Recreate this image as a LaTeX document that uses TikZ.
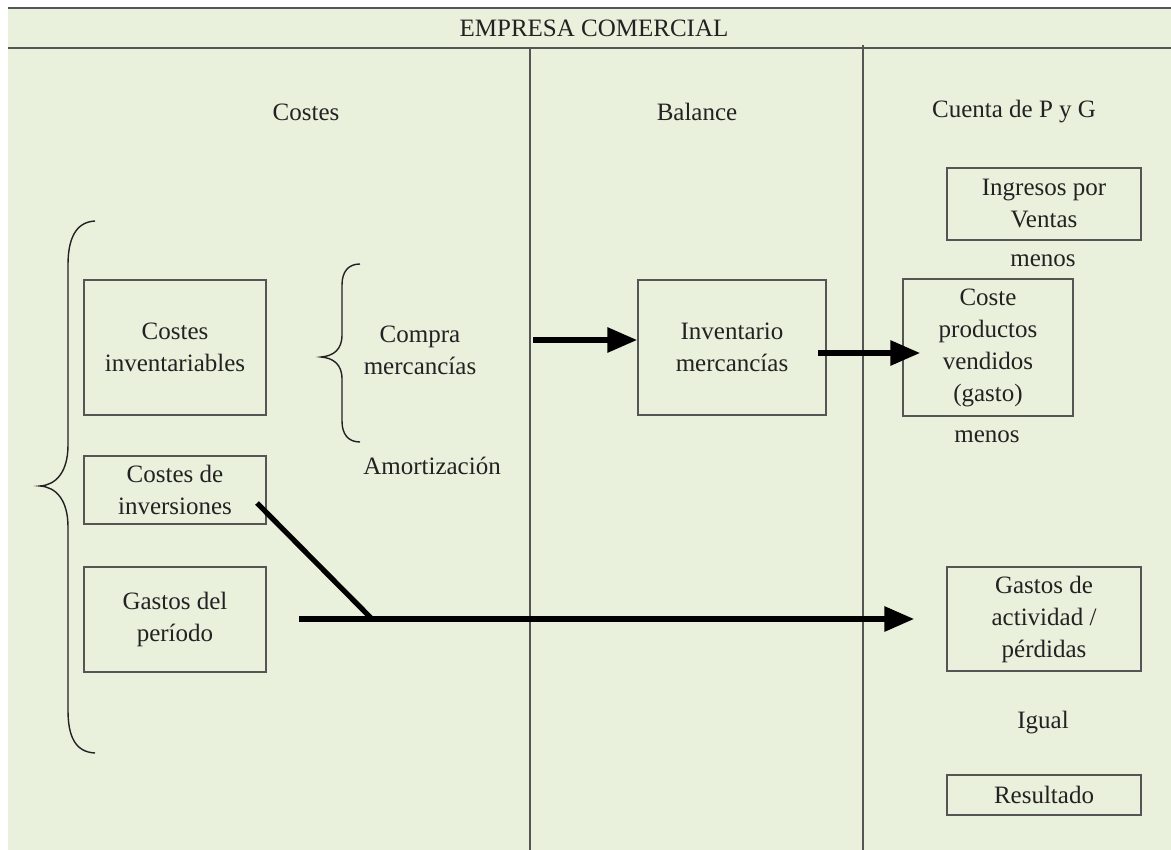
\documentclass[tikz,border=0pt]{standalone}
\usepackage{fontspec}
\setmainfont{Liberation Serif}
\usepackage{tikz}
\usetikzlibrary{arrows.meta}

\definecolor{fondo}{RGB}{233,240,220}
\definecolor{raya}{RGB}{85,85,85}
\definecolor{texto}{RGB}{34,34,34}

\begin{document}
\begin{tikzpicture}[x=0.5pt, y=-0.5pt,
    every node/.style={font=\fontsize{12.5}{16}\selectfont, text=texto, align=center},
    caja/.style={draw=raya, line width=0.7pt, inner sep=0pt, minimum width=#1},
    caja/.default=91pt,
    flecha/.style={line width=3pt, -{Triangle[length=15pt, width=12pt]}},
    raya fina/.style={draw=raya, line width=0.7pt}]
  \useasboundingbox (0,0) rectangle (1171,850);
  \fill[fondo] (8,8) rectangle (1171,850);
  % table frame
  \draw[raya fina] (8,8) -- (1171,8);
  \draw[raya fina] (8,48) -- (1171,48);
  \draw[raya fina] (530,47) -- (530,850);
  \draw[raya fina] (863,45) -- (863,850);
  \node (titulo) at (594,28) {EMPRESA COMERCIAL};
  \node (hcostes) at (306,112) {Costes};
  \node (hbalance) at (697,112) {Balance};
  \node (hpyg) at (1014,112) {Cuenta de P y G};
  % costes column
  \node[caja, minimum height=67.5pt] (inventariables) at (175,347.5) {Costes\\inventariables};
  \node[caja, minimum height=34pt] (inversiones) at (175,490) {Costes de\\inversiones};
  \node[caja, minimum height=52.5pt] (periodo) at (175,619.5) {Gastos del\\período};
  \draw[texto, line width=0.7pt] (95,221) .. controls (75,222) and (68,240) .. (68,265) -- (68,445)
    .. controls (68,472) and (56,485) .. (40,486) .. controls (56,487) and (68,500) .. (68,527)
    -- (68,710) .. controls (68,736) and (75,752) .. (95,753);
  \draw[texto, line width=0.7pt] (360,264) .. controls (348,264) and (342,272) .. (342,285) -- (342,335)
    .. controls (342,350) and (333,356) .. (321,357) .. controls (333,358) and (342,364) .. (342,379)
    -- (342,421) .. controls (342,434) and (348,442) .. (360,442);
  \node (compra) at (420,350) {Compra\\mercancías};
  \node (amortizacion) at (432,466) {Amortización};
  % balance column
  \node[caja=94pt, minimum height=67.5pt] (inventario) at (732,347.5) {Inventario\\mercancías};
  % cuenta de P y G column
  \node[caja=97pt, minimum height=36pt] (ingresos) at (1044,204) {Ingresos por\\Ventas};
  \node (menosa) at (1043,261) {menos};
  \node[caja=85pt, minimum height=68.5pt] (coste) at (988,347.5) {Coste\\productos\\vendidos\\(gasto)};
  \node (menosb) at (987,437) {menos};
  \node[caja=97pt, minimum height=52pt] (actividad) at (1044,619) {Gastos de\\actividad /\\pérdidas};
  \node (igual) at (1043,723) {Igual};
  \node[caja=97pt, minimum height=20pt] (resultado) at (1044,795) {Resultado};
  % flows
  \coordinate (compraout) at (533,340);
  \coordinate (invout) at (818,353);
  \coordinate (periodout) at (299,619);
  \coordinate (inversout) at (257,503);
  \coordinate (junta) at (372,619);
  \draw[flecha] (compraout) -- (compraout -| inventario.west);
  \draw[flecha] (invout) -- ([xshift=9pt]invout -| coste.west);
  \draw[flecha] (periodout) -- ([xshift=-16pt]periodout -| actividad.west);
  \draw[line width=2.6pt] (inversout) -- (junta);
\end{tikzpicture}
\end{document}
